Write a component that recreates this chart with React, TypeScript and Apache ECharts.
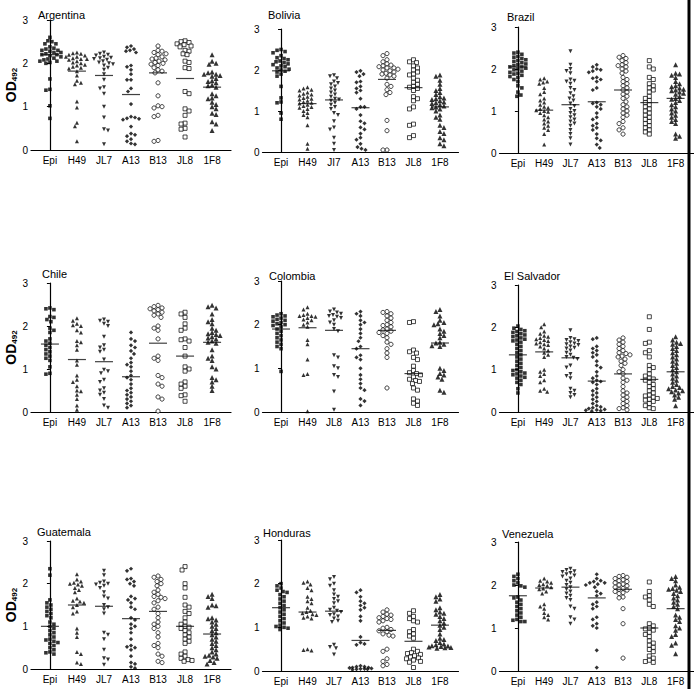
import React, { useEffect, useRef } from "react";
import * as echarts from "echarts";

const FONT = "'Liberation Sans', Arial, Helvetica, sans-serif";

// ---------- categories ----------
const defaultCategories = ["Epi", "H49", "JL7", "A13", "B13", "JL8", "1F8"];
const boliviaCategories = ["Epi", "H49", "JI7", "A13", "B13", "JL8", "1F8"];
const colombiaCategories = ["Epi", "H49", "JL8", "A13", "B13", "JL8", "1F8"];
const countryNames = ["Argentina", "Bolivia", "Brazil", "Chile", "Colombia", "El Salvador", "Guatemala", "Honduras", "Venezuela"];

// ---------- data (OD492 per serum, columns: Epi, H49, JL7, A13, B13, JL8, 1F8) ----------
const argentina: number[][] = [
  [2.6, 2.52, 2.5, 2.45, 2.45, 2.38, 2.35, 2.33, 2.3, 2.3, 2.28, 2.25, 2.25, 2.22, 2.2, 2.2, 2.18, 2.15, 2.12, 2.1, 2.08, 2.05, 2.05, 2.02, 2.0, 1.64, 1.4, 1.38, 1.02, 0.73],
  [2.25, 2.23, 2.22, 2.2, 2.18, 2.15, 2.15, 2.12, 2.1, 2.1, 2.08, 2.05, 2.02, 2.0, 1.97, 1.95, 1.92, 1.9, 1.88, 1.82, 1.72, 1.6, 1.55, 1.52, 1.12, 0.98, 0.63, 0.55, 0.2],
  [2.25, 2.22, 2.2, 2.18, 2.15, 2.13, 2.12, 2.1, 2.08, 2.05, 2.02, 2.0, 1.98, 1.95, 1.9, 1.85, 1.75, 1.62, 1.45, 1.42, 1.3, 1.0, 0.75, 0.48, 0.45, 0.13],
  [2.4, 2.37, 2.33, 2.3, 2.28, 2.25, 1.95, 1.92, 1.85, 1.75, 1.62, 1.62, 1.42, 1.35, 1.06, 0.77, 0.75, 0.73, 0.72, 0.7, 0.54, 0.38, 0.35, 0.32, 0.25, 0.2, 0.15, 0.13],
  [2.4, 2.3, 2.28, 2.25, 2.22, 2.2, 2.15, 2.12, 2.1, 2.08, 2.05, 2.02, 2.0, 1.98, 1.95, 1.9, 1.85, 1.82, 1.78, 1.55, 1.25, 1.02, 1.0, 0.97, 0.8, 0.77, 0.22, 0.2],
  [2.52, 2.5, 2.48, 2.45, 2.43, 2.4, 2.38, 2.3, 2.28, 2.22, 2.2, 2.05, 2.02, 1.9, 1.88, 1.35, 1.3, 0.95, 0.9, 0.8, 0.62, 0.6, 0.5, 0.48, 0.3],
  [2.2, 2.05, 2.0, 1.98, 1.8, 1.78, 1.75, 1.75, 1.72, 1.7, 1.65, 1.6, 1.58, 1.55, 1.5, 1.48, 1.45, 1.3, 1.25, 1.2, 1.18, 1.1, 1.05, 1.0, 0.95, 0.85, 0.82, 0.65, 0.6, 0.45],
];
const argentinaMedians = [2.2, 1.82, 1.72, 1.28, 1.78, 1.65, 1.45];

const bolivia: number[][] = [
  [2.5, 2.48, 2.45, 2.42, 2.35, 2.3, 2.28, 2.25, 2.22, 2.2, 2.18, 2.15, 2.13, 2.1, 2.08, 2.05, 2.02, 2.0, 1.97, 1.95, 1.9, 1.85, 1.6, 1.32, 1.22, 1.2, 0.95, 0.8],
  [1.58, 1.55, 1.52, 1.5, 1.45, 1.42, 1.4, 1.38, 1.35, 1.32, 1.3, 1.28, 1.25, 1.22, 1.2, 1.18, 1.15, 1.12, 1.1, 1.08, 1.05, 1.0, 0.95, 0.9, 0.85, 0.65, 0.2, 0.08],
  [1.87, 1.85, 1.8, 1.72, 1.68, 1.65, 1.6, 1.55, 1.5, 1.45, 1.4, 1.35, 1.3, 1.28, 1.25, 1.2, 1.15, 1.1, 1.05, 0.95, 0.9, 0.75, 0.6, 0.55, 0.35, 0.2, 0.05],
  [1.98, 1.95, 1.9, 1.85, 1.72, 1.7, 1.6, 1.55, 1.5, 1.45, 1.3, 1.1, 1.1, 1.05, 0.9, 0.75, 0.7, 0.6, 0.55, 0.45, 0.35, 0.3, 0.2, 0.12, 0.08, 0.05],
  [2.4, 2.35, 2.25, 2.2, 2.15, 2.12, 2.1, 2.08, 2.05, 2.05, 2.02, 2.0, 1.98, 1.95, 1.92, 1.9, 1.88, 1.85, 1.8, 1.65, 1.6, 1.52, 1.45, 1.4, 0.77, 0.52, 0.05, 0.05],
  [2.25, 2.2, 2.18, 2.1, 2.05, 2.0, 1.95, 1.9, 1.88, 1.8, 1.75, 1.7, 1.65, 1.6, 1.58, 1.55, 1.5, 1.35, 1.3, 1.25, 1.1, 1.05, 0.68, 0.65, 0.4, 0.35],
  [1.88, 1.85, 1.75, 1.65, 1.55, 1.5, 1.45, 1.4, 1.35, 1.32, 1.3, 1.28, 1.25, 1.22, 1.2, 1.18, 1.15, 1.12, 1.1, 1.08, 1.05, 1.0, 0.9, 0.85, 0.8, 0.65, 0.6, 0.5, 0.45, 0.35, 0.3, 0.2, 0.15],
];
const boliviaMedians = [1.98, 1.18, 1.27, 1.08, 1.77, 1.57, 1.1];

const brazil: number[][] = [
  [2.4, 2.38, 2.35, 2.3, 2.28, 2.25, 2.22, 2.2, 2.18, 2.15, 2.12, 2.1, 2.08, 2.05, 2.05, 2.02, 2.0, 1.98, 1.95, 1.92, 1.9, 1.88, 1.85, 1.82, 1.8, 1.75, 1.7, 1.6, 1.55, 1.45, 1.38, 1.35],
  [1.78, 1.75, 1.7, 1.68, 1.65, 1.55, 1.45, 1.4, 1.3, 1.25, 1.2, 1.15, 1.1, 1.08, 1.05, 1.02, 1.0, 0.98, 0.95, 0.9, 0.85, 0.8, 0.75, 0.7, 0.65, 0.6, 0.55, 0.45, 0.2],
  [2.42, 2.1, 2.0, 1.95, 1.9, 1.75, 1.72, 1.7, 1.65, 1.55, 1.5, 1.42, 1.35, 1.3, 1.25, 1.18, 1.12, 1.05, 1.0, 0.95, 0.9, 0.85, 0.8, 0.75, 0.7, 0.65, 0.55, 0.45, 0.35, 0.2],
  [2.1, 2.05, 2.0, 1.98, 1.95, 1.92, 1.8, 1.78, 1.75, 1.7, 1.55, 1.5, 1.2, 1.18, 1.15, 1.1, 1.05, 0.95, 0.85, 0.8, 0.7, 0.65, 0.6, 0.55, 0.45, 0.35, 0.3, 0.2, 0.12],
  [2.32, 2.28, 2.25, 2.2, 2.15, 2.1, 2.08, 2.05, 2.0, 1.95, 1.9, 1.8, 1.75, 1.7, 1.65, 1.6, 1.55, 1.5, 1.45, 1.4, 1.35, 1.3, 1.22, 1.15, 1.1, 1.05, 1.0, 0.95, 0.9, 0.85, 0.75, 0.7, 0.6, 0.55, 0.45],
  [2.2, 2.05, 2.0, 1.8, 1.75, 1.65, 1.6, 1.55, 1.5, 1.45, 1.35, 1.3, 1.25, 1.2, 1.15, 1.1, 1.05, 1.0, 0.95, 0.9, 0.85, 0.8, 0.75, 0.7, 0.65, 0.6, 0.55, 0.5, 0.45],
  [2.1, 1.9, 1.88, 1.85, 1.8, 1.7, 1.65, 1.6, 1.58, 1.55, 1.52, 1.5, 1.48, 1.45, 1.42, 1.4, 1.35, 1.3, 1.28, 1.25, 1.2, 1.15, 1.1, 1.05, 1.0, 0.95, 0.9, 0.85, 0.8, 0.75, 0.7, 0.45, 0.4, 0.35],
];
const brazilMedians = [2.05, 1.02, 1.15, 1.22, 1.5, 1.2, 1.3];

const chile: number[][] = [
  [2.42, 2.4, 2.38, 2.22, 2.2, 2.15, 2.1, 1.95, 1.9, 1.85, 1.7, 1.65, 1.6, 1.55, 1.5, 1.45, 1.4, 1.35, 1.3, 1.25, 1.2, 1.05, 0.9, 0.88],
  [2.18, 2.12, 2.05, 2.02, 2.0, 1.9, 1.85, 1.65, 1.62, 1.55, 1.45, 1.2, 1.1, 0.85, 0.75, 0.7, 0.6, 0.5, 0.48, 0.4, 0.3, 0.15, 0.05],
  [2.15, 2.12, 2.1, 2.05, 2.0, 1.75, 1.55, 1.5, 1.45, 1.4, 1.22, 0.98, 0.95, 0.9, 0.75, 0.7, 0.55, 0.5, 0.45, 0.4, 0.3, 0.15, 0.1],
  [1.85, 1.7, 1.65, 1.55, 1.5, 1.42, 1.35, 1.25, 1.15, 1.1, 1.05, 0.95, 0.85, 0.8, 0.75, 0.65, 0.55, 0.5, 0.45, 0.4, 0.35, 0.3, 0.25, 0.2, 0.15, 0.1],
  [2.48, 2.45, 2.42, 2.4, 2.38, 2.35, 2.32, 2.28, 2.25, 2.2, 2.0, 1.95, 1.9, 1.7, 1.3, 1.25, 1.2, 0.85, 0.8, 0.65, 0.6, 0.35, 0.3, 0.02],
  [2.32, 2.28, 2.2, 2.05, 1.95, 1.9, 1.7, 1.68, 1.65, 1.5, 1.3, 1.05, 1.0, 0.95, 0.7, 0.65, 0.6, 0.55, 0.4, 0.38, 0.25],
  [2.48, 2.45, 2.42, 2.28, 2.15, 2.1, 2.05, 1.95, 1.9, 1.85, 1.82, 1.8, 1.78, 1.75, 1.72, 1.7, 1.65, 1.62, 1.6, 1.45, 1.3, 1.25, 1.2, 1.05, 1.0, 0.8, 0.75, 0.7, 0.6, 0.5],
];
const chileMedians = [1.58, 1.22, 1.17, 0.82, 1.6, 1.3, 1.62];

const colombia: number[][] = [
  [2.25, 2.22, 2.2, 2.18, 2.15, 2.12, 2.1, 2.08, 2.05, 2.02, 2.0, 1.98, 1.95, 1.9, 1.85, 1.8, 1.75, 1.7, 1.65, 1.6, 1.55, 1.5, 1.45, 0.93],
  [2.4, 2.35, 2.25, 2.22, 2.2, 2.2, 2.18, 2.15, 2.12, 2.1, 2.05, 2.0, 1.95, 1.65, 1.55, 1.2, 0.87, 0.85, 0.02],
  [2.35, 2.3, 2.28, 2.25, 2.22, 2.2, 2.18, 2.15, 2.1, 2.05, 2.0, 1.9, 1.85, 1.3, 1.25, 1.05, 1.0, 0.85, 0.8, 0.47, 0.05],
  [2.3, 2.25, 2.2, 2.1, 2.05, 2.0, 1.9, 1.8, 1.7, 1.62, 1.5, 1.45, 1.3, 1.25, 1.2, 1.0, 0.85, 0.75, 0.65, 0.55, 0.5, 0.3, 0.25, 0.15],
  [2.3, 2.28, 2.25, 2.2, 2.15, 2.1, 2.05, 2.0, 1.98, 1.95, 1.9, 1.88, 1.85, 1.82, 1.8, 1.75, 1.7, 1.6, 1.55, 1.45, 1.35, 1.25, 0.55],
  [2.07, 2.05, 1.42, 1.38, 1.35, 1.25, 1.2, 1.05, 0.95, 0.9, 0.88, 0.85, 0.8, 0.75, 0.72, 0.7, 0.65, 0.55, 0.5, 0.3, 0.25, 0.2, 0.15],
  [2.35, 2.3, 2.2, 2.1, 2.05, 2.02, 2.0, 1.9, 1.85, 1.8, 1.75, 1.7, 1.6, 1.58, 1.55, 1.52, 1.5, 1.0, 0.95, 0.88, 0.85, 0.8, 0.75, 0.5, 0.45],
];
const colombiaMedians = [1.9, 1.93, 1.87, 1.45, 1.87, 0.88, 1.58];

const elSalvador: number[][] = [
  [2.03, 1.98, 1.95, 1.92, 1.9, 1.88, 1.85, 1.82, 1.8, 1.78, 1.75, 1.72, 1.7, 1.68, 1.65, 1.6, 1.55, 1.5, 1.45, 1.4, 1.35, 1.3, 1.25, 1.2, 1.15, 1.1, 1.05, 1.0, 0.98, 0.95, 0.92, 0.9, 0.88, 0.85, 0.82, 0.8, 0.75, 0.7, 0.65, 0.55, 0.45],
  [2.07, 2.0, 1.9, 1.85, 1.8, 1.78, 1.75, 1.72, 1.7, 1.68, 1.65, 1.62, 1.6, 1.58, 1.55, 1.5, 1.45, 1.4, 1.35, 1.3, 1.0, 0.95, 0.9, 0.85, 0.75, 0.7, 0.55, 0.5, 0.48],
  [1.93, 1.75, 1.72, 1.7, 1.68, 1.65, 1.62, 1.6, 1.58, 1.55, 1.52, 1.5, 1.45, 1.4, 1.35, 1.3, 1.28, 1.25, 1.1, 1.05, 0.9, 0.85, 0.8, 0.55, 0.5, 0.45, 0.4, 0.35],
  [1.75, 1.72, 1.55, 1.5, 1.45, 1.4, 1.35, 1.3, 1.2, 1.1, 1.05, 0.95, 0.85, 0.8, 0.75, 0.72, 0.7, 0.65, 0.55, 0.5, 0.45, 0.4, 0.35, 0.3, 0.25, 0.2, 0.15, 0.12, 0.1, 0.08, 0.06, 0.05, 0.04, 0.03, 0.02],
  [1.75, 1.7, 1.65, 1.6, 1.55, 1.5, 1.45, 1.4, 1.38, 1.35, 1.32, 1.3, 1.25, 1.2, 1.15, 1.1, 1.0, 0.95, 0.9, 0.8, 0.75, 0.7, 0.6, 0.5, 0.45, 0.4, 0.35, 0.3, 0.25, 0.2, 0.15, 0.1, 0.08, 0.05],
  [2.25, 1.95, 1.65, 1.62, 1.45, 1.4, 1.3, 1.1, 1.05, 1.0, 0.9, 0.85, 0.8, 0.78, 0.75, 0.7, 0.65, 0.6, 0.55, 0.5, 0.45, 0.4, 0.38, 0.35, 0.32, 0.3, 0.28, 0.25, 0.2, 0.15, 0.1, 0.08],
  [1.78, 1.7, 1.65, 1.62, 1.6, 1.55, 1.5, 1.45, 1.4, 1.35, 1.3, 1.25, 1.2, 1.15, 1.1, 1.05, 1.0, 0.95, 0.9, 0.85, 0.8, 0.75, 0.7, 0.65, 0.6, 0.58, 0.55, 0.52, 0.5, 0.48, 0.45, 0.4, 0.35, 0.3, 0.15],
];
const elSalvadorMedians = [1.35, 1.42, 1.28, 0.73, 0.9, 0.77, 0.95];

const guatemala: number[][] = [
  [2.35, 2.2, 1.62, 1.55, 1.5, 1.45, 1.4, 1.35, 1.3, 1.25, 1.2, 1.1, 1.05, 1.0, 0.95, 0.9, 0.85, 0.8, 0.75, 0.7, 0.68, 0.65, 0.62, 0.6, 0.55, 0.5, 0.45, 0.4, 0.38, 0.35],
  [2.22, 2.1, 2.05, 2.02, 2.0, 1.98, 1.95, 1.9, 1.85, 1.8, 1.65, 1.6, 1.58, 1.55, 1.5, 1.45, 1.35, 1.3, 0.95, 0.85, 0.75, 0.4, 0.35, 0.15, 0.12],
  [2.3, 2.2, 2.05, 2.02, 2.0, 1.98, 1.95, 1.9, 1.8, 1.7, 1.65, 1.5, 1.45, 1.4, 1.3, 0.85, 0.8, 0.7, 0.45, 0.25, 0.22, 0.1],
  [2.35, 2.3, 2.12, 2.1, 2.05, 2.0, 1.95, 1.7, 1.65, 1.62, 1.55, 1.45, 1.4, 1.2, 1.15, 1.05, 1.0, 0.95, 0.85, 0.7, 0.55, 0.52, 0.5, 0.45, 0.3, 0.15, 0.12, 0.05, 0.02],
  [2.18, 2.15, 2.1, 2.05, 2.0, 1.95, 1.85, 1.8, 1.75, 1.7, 1.68, 1.65, 1.6, 1.55, 1.45, 1.4, 1.3, 1.2, 1.1, 1.05, 1.0, 0.95, 0.85, 0.75, 0.6, 0.55, 0.5, 0.35, 0.3, 0.18, 0.15],
  [2.4, 2.32, 2.0, 1.9, 1.68, 1.5, 1.45, 1.35, 1.3, 1.2, 1.1, 1.05, 1.0, 0.98, 0.95, 0.9, 0.85, 0.8, 0.75, 0.7, 0.65, 0.6, 0.4, 0.35, 0.3, 0.25, 0.22, 0.2, 0.18],
  [1.75, 1.7, 1.65, 1.5, 1.48, 1.45, 1.2, 1.18, 1.15, 1.1, 1.05, 1.0, 0.95, 0.9, 0.85, 0.8, 0.75, 0.7, 0.65, 0.6, 0.55, 0.5, 0.45, 0.4, 0.35, 0.32, 0.3, 0.28, 0.25, 0.2, 0.15, 0.12],
];
const guatemalaMedians = [1.0, 1.5, 1.47, 1.18, 1.35, 1.0, 0.82];

const honduras: number[][] = [
  [2.0, 1.95, 1.9, 1.85, 1.82, 1.8, 1.75, 1.7, 1.65, 1.6, 1.55, 1.5, 1.45, 1.4, 1.35, 1.3, 1.25, 1.2, 1.15, 1.1, 1.05, 1.02, 1.0, 0.98, 0.95],
  [2.05, 2.02, 1.98, 1.9, 1.85, 1.7, 1.65, 1.6, 1.55, 1.45, 1.38, 1.35, 1.32, 1.3, 1.28, 1.25, 1.22, 1.2, 0.5, 0.48, 0.47],
  [2.15, 2.1, 2.0, 1.95, 1.85, 1.75, 1.7, 1.65, 1.6, 1.55, 1.45, 1.4, 1.38, 1.35, 1.3, 1.28, 1.25, 1.2, 1.15, 1.12, 0.6, 0.55, 0.52, 0.38],
  [1.85, 1.8, 1.7, 1.6, 1.55, 1.5, 1.45, 1.4, 1.25, 1.15, 0.78, 0.65, 0.62, 0.6, 0.12, 0.1, 0.1, 0.08, 0.08, 0.07, 0.06, 0.05, 0.05, 0.04, 0.04, 0.03],
  [1.4, 1.35, 1.3, 1.28, 1.25, 1.22, 1.2, 1.18, 1.15, 1.12, 1.0, 0.98, 0.95, 0.92, 0.9, 0.85, 0.82, 0.8, 0.5, 0.45, 0.28, 0.22, 0.15, 0.12],
  [1.38, 1.32, 1.25, 1.2, 1.15, 1.12, 0.95, 0.9, 0.85, 0.8, 0.75, 0.5, 0.45, 0.42, 0.4, 0.38, 0.35, 0.32, 0.3, 0.28, 0.25, 0.22, 0.2, 0.08],
  [1.75, 1.7, 1.65, 1.6, 1.45, 1.4, 1.35, 1.32, 1.3, 1.25, 1.2, 1.15, 1.1, 1.05, 1.0, 0.95, 0.85, 0.75, 0.72, 0.7, 0.65, 0.62, 0.6, 0.58, 0.57, 0.56, 0.55, 0.54, 0.53, 0.52],
];
const hondurasMedians = [1.45, 1.35, 1.37, 0.7, 0.93, 0.68, 1.05];

const venezuela: number[][] = [
  [2.25, 2.2, 2.15, 2.1, 2.05, 2.0, 1.98, 1.95, 1.72, 1.7, 1.65, 1.6, 1.55, 1.5, 1.45, 1.4, 1.35, 1.3, 1.25, 1.2, 1.18, 1.15, 1.15],
  [2.15, 2.1, 2.08, 2.05, 2.02, 2.0, 1.98, 1.95, 1.92, 1.9, 1.85, 1.8, 1.55, 1.5, 1.45, 1.35, 1.3, 1.25, 1.2],
  [2.38, 2.35, 2.32, 2.3, 2.28, 2.25, 2.22, 2.2, 2.15, 2.1, 2.05, 2.0, 1.95, 1.9, 1.85, 1.8, 1.75, 1.7, 1.65, 1.5, 1.45, 1.25, 1.2, 1.1],
  [2.25, 2.15, 2.1, 2.08, 2.05, 2.05, 2.02, 2.0, 1.95, 1.85, 1.8, 1.75, 1.6, 1.55, 1.5, 1.45, 1.25, 1.2, 1.1, 1.05, 1.0, 0.48, 0.08],
  [2.22, 2.2, 2.18, 2.15, 2.12, 2.1, 2.08, 2.05, 2.02, 2.0, 1.98, 1.95, 1.92, 1.9, 1.88, 1.85, 1.82, 1.8, 1.72, 1.7, 1.45, 1.1, 0.3],
  [2.07, 1.85, 1.75, 1.72, 1.65, 1.55, 1.5, 1.1, 1.05, 1.0, 0.98, 0.95, 0.9, 0.85, 0.8, 0.7, 0.65, 0.6, 0.55, 0.5, 0.45, 0.35, 0.3, 0.25, 0.22, 0.2],
  [2.2, 2.15, 2.1, 2.0, 1.95, 1.92, 1.9, 1.88, 1.85, 1.8, 1.75, 1.7, 1.65, 1.6, 1.55, 1.5, 1.45, 1.3, 1.25, 1.2, 1.15, 1.05, 1.0, 0.95, 0.85, 0.8, 0.65, 0.6, 0.4],
];
const venezuelaMedians = [1.75, 1.93, 1.95, 1.7, 1.9, 1.0, 1.45];

const panelValues = [argentina, bolivia, brazil, chile, colombia, elSalvador, guatemala, honduras, venezuela];
const panelMedians = [argentinaMedians, boliviaMedians, brazilMedians, chileMedians, colombiaMedians, elSalvadorMedians, guatemalaMedians, hondurasMedians, venezuelaMedians];
const panelCategories = [defaultCategories, boliviaCategories, defaultCategories, defaultCategories, colombiaCategories, defaultCategories, defaultCategories, defaultCategories, defaultCategories];

// ---------- layout (pixels) ----------
const panelLayout = [
  { left: 31, width: 200, top: 20, height: 130, titleLeft: 38, titleTop: 9, od: true },
  { left: 262.5, width: 196, top: 29, height: 123, titleLeft: 268, titleTop: 9, od: false },
  { left: 499.5, width: 196, top: 27, height: 126, titleLeft: 507, titleTop: 11, od: false },
  { left: 31, width: 200, top: 283, height: 129, titleLeft: 42, titleTop: 268, od: true },
  { left: 262.5, width: 196, top: 281, height: 131, titleLeft: 269, titleTop: 270, od: false },
  { left: 499.5, width: 196, top: 285, height: 127, titleLeft: 504, titleTop: 270, od: false },
  { left: 31, width: 200, top: 541, height: 128, titleLeft: 37, titleTop: 526, od: true },
  { left: 262.5, width: 196, top: 540, height: 131, titleLeft: 263, titleTop: 527, od: false },
  { left: 499.5, width: 196, top: 542, height: 129, titleLeft: 502, titleTop: 528, od: false },
];
const X_MIN = -0.7;
const X_MAX = 6.7;

const markerStyles = [
  { symbol: "rect", size: 3.6, filled: true, rotate: 0 },
  { symbol: "triangle", size: 4, filled: true, rotate: 0 },
  { symbol: "triangle", size: 4, filled: true, rotate: 180 },
  { symbol: "diamond", size: 4.2, filled: true, rotate: 0 },
  { symbol: "circle", size: 4.2, filled: false, rotate: 0 },
  { symbol: "rect", size: 4, filled: false, rotate: 0 },
  { symbol: "triangle", size: 5, filled: true, rotate: 0 },
];

// beeswarm: horizontal offsets (in axis units) so that markers do not overlap
function swarm(vals: number[], pxY: number, pxX: number, d: number, maxPx: number): number[][] {
  const order = vals.map((_, i) => i).sort((a, b) => vals[b] - vals[a]);
  const placed: { x: number; y: number }[] = [];
  const out: number[][] = new Array(vals.length);
  let flip = 1;
  for (const idx of order) {
    const y = vals[idx] * pxY;
    let bestX = 0;
    let bestScore = Infinity;
    for (let k = 0; k <= maxPx * 2; k++) {
      const x = (k % 2 === 1 ? flip : -flip) * Math.ceil(k / 2);
      let score = 0;
      for (const p of placed) {
        const dist = Math.hypot(p.x - x, p.y - y);
        if (dist < d) score += d - dist;
      }
      if (score < bestScore - 1e-9) {
        bestScore = score;
        bestX = x;
      }
      if (score === 0) break;
    }
    flip = -flip;
    placed.push({ x: bestX, y });
    out[idx] = [bestX / pxX, vals[idx]];
  }
  return out;
}

function buildOption() {
  const grid: any[] = [];
  const xAxis: any[] = [];
  const yAxis: any[] = [];
  const title: any[] = [];
  const series: any[] = [];
  panelLayout.forEach((L, p) => {
    const cats = panelCategories[p];
    grid.push({ left: L.left, top: L.top, width: L.width, height: L.height, containLabel: false });
    xAxis.push({
      gridIndex: p,
      type: "value",
      min: X_MIN,
      max: X_MAX,
      axisLine: { show: true, lineStyle: { color: "#000", width: 1.2 } },
      axisTick: { show: false },
      splitLine: { show: false },
      axisLabel: {
        customValues: [0, 1, 2, 3, 4, 5, 6],
        formatter: (v: number) => cats[Math.round(v)] ?? "",
        fontSize: 10,
        color: "#000",
        margin: 5,
        fontFamily: FONT,
      },
    });
    yAxis.push({
      gridIndex: p,
      type: "value",
      min: 0,
      max: 3,
      interval: 1,
      axisLine: { show: true, lineStyle: { color: "#000", width: 1.2 } },
      axisTick: { show: true, length: 3, lineStyle: { color: "#000", width: 1 } },
      splitLine: { show: false },
      axisLabel: { fontSize: 10, color: "#000", margin: 3, fontFamily: FONT },
      name: L.od ? "{a|OD}{b|492}" : "",
      nameLocation: "middle",
      nameRotate: 90,
      nameGap: 13,
      nameTextStyle: {
        fontFamily: FONT,
        rich: {
          a: { fontSize: 14, fontWeight: "bold", color: "#000", fontFamily: FONT },
          b: { fontSize: 8, fontWeight: "bold", color: "#000", fontFamily: FONT, padding: [6, 0, 0, 0] },
        },
      },
    });
    title.push({
      text: countryNames[p],
      left: L.titleLeft,
      top: L.titleTop,
      padding: 0,
      textStyle: { fontSize: 11, fontWeight: "normal", color: "#000", fontFamily: FONT },
    });
    const pxY = L.height / 3;
    const pxX = L.width / (X_MAX - X_MIN);
    panelValues[p].forEach((vals, j) => {
      const m = markerStyles[j];
      const pts = swarm(vals, pxY, pxX, 4.0, 11).map(([dx, v]) => [j + dx, v]);
      series.push({
        type: "scatter",
        xAxisIndex: p,
        yAxisIndex: p,
        symbol: m.symbol,
        symbolSize: m.size,
        symbolRotate: m.rotate,
        silent: true,
        itemStyle: m.filled
          ? { color: "#000", borderWidth: 0 }
          : { color: "#fff", borderColor: "#000", borderWidth: 0.9 },
        data: pts,
      });
    });
    series.push({
      type: "scatter",
      xAxisIndex: p,
      yAxisIndex: p,
      symbol: "rect",
      symbolSize: [18, 1.2],
      silent: true,
      z: 5,
      itemStyle: { color: "#111" },
      data: panelMedians[p].map((m, j) => [j, m]),
    });
  });
  return {
    animation: false,
    backgroundColor: "#fff",
    textStyle: { fontFamily: FONT },
    title,
    grid,
    xAxis,
    yAxis,
    series,
    graphic: [
      {
        type: "line",
        z: 100,
        silent: true,
        shape: { x1: 689, y1: 0, x2: 689, y2: 689 },
        style: { stroke: "#000", lineWidth: 3 },
      },
    ],
  };
}

export default function App() {
  const ref = useRef<HTMLDivElement>(null);
  useEffect(() => {
    if (!ref.current) return;
    const chart = echarts.init(ref.current, undefined, { renderer: "svg" });
    chart.setOption(buildOption() as any);
    return () => chart.dispose();
  }, []);
  return (
    <div
      ref={ref}
      style={{ position: "fixed", left: 0, top: 0, width: 694, height: 689, background: "#fff" }}
    />
  );
}
